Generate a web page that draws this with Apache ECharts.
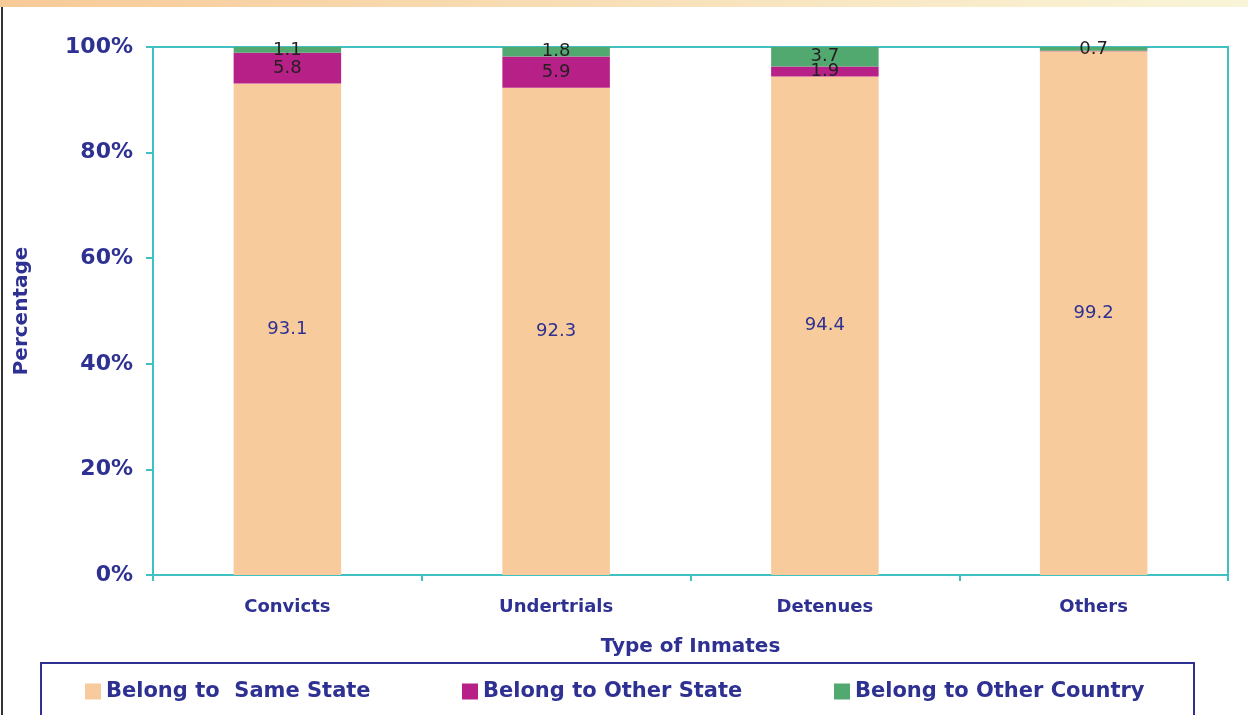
<!DOCTYPE html>
<html>
<head>
<meta charset="utf-8">
<script src="https://cdn.jsdelivr.net/npm/echarts@6/dist/echarts.min.js"></script>
<style>
    html, body { margin: 0; padding: 0; background: #ffffff; }
    #main { width: 1248px; height: 715px; }
</style>
</head>
<body>
<div id="main"></div>
<script>
// categories and values (percent)
const categories = ['Convicts', 'Undertrials', 'Detenues', 'Others']
const sameState = [93.1, 92.3, 94.4, 99.2]
const otherState = [5.8, 5.9, 1.9, 0.1]
const otherCountry = [1.1, 1.8, 3.7, 0.7]
const seriesNames = ['Belong to  Same State', 'Belong to Other State', 'Belong to Other Country']
const yTicks = [0, 20, 40, 60, 80, 100]

const navy = '#2e3192'
const teal = '#40c0c0'
const fontName = '"DejaVu Sans", "Liberation Sans", Arial, sans-serif'
const colors = ['#f7cb9b', '#b72087', '#52a96f']

// tiny segments get no label, as in the original
function toData(arr) {
    return arr.map(v => v < 0.5 ? { value: v, label: { show: false } } : v)
}

function makeSeries(name, arr, color, labelColor) {
    return {
        name: name,
        type: 'bar',
        stack: 'total',
        barWidth: '40%',
        itemStyle: { color: color },
        label: {
            show: true,
            position: 'inside',
            color: labelColor,
            fontFamily: fontName,
            fontSize: 18
        },
        data: toData(arr)
    }
}

// one legend per item so each sits where the original has it
function makeLegend(name, left) {
    return {
        data: [name],
        left: left,
        top: 681,
        padding: 0,
        itemWidth: 16,
        itemHeight: 16,
        itemGap: 5,
        icon: 'rect',
        textStyle: { color: navy, fontFamily: fontName, fontWeight: 'bold', fontSize: 21 }
    }
}

const chart = echarts.init(document.getElementById('main'), null, { renderer: 'canvas' })

const option = {
    animation: false,
    backgroundColor: '#ffffff',
    color: colors,
    grid: {
        left: 153,
        right: 20,
        top: 47,
        bottom: 140,
        show: true,
        borderColor: teal,
        borderWidth: 2
    },
    legend: [
        makeLegend(seriesNames[0], 85),
        makeLegend(seriesNames[1], 462),
        makeLegend(seriesNames[2], 834)
    ],
    xAxis: {
        type: 'category',
        data: categories,
        name: 'Type of Inmates',
        nameLocation: 'middle',
        nameGap: 62,
        nameTextStyle: { color: navy, fontFamily: fontName, fontWeight: 'bold', fontSize: 20 },
        axisLine: { lineStyle: { color: teal, width: 2 } },
        axisTick: { show: true, length: 6, lineStyle: { color: teal, width: 2 } },
        axisLabel: { color: navy, fontFamily: fontName, fontWeight: 'bold', fontSize: 18, margin: 23 }
    },
    yAxis: {
        type: 'value',
        min: yTicks[0],
        max: yTicks[yTicks.length - 1],
        interval: yTicks[1] - yTicks[0],
        name: 'Percentage',
        nameLocation: 'middle',
        nameGap: 121,
        nameTextStyle: { color: navy, fontFamily: fontName, fontWeight: 'bold', fontSize: 20 },
        splitLine: { show: false },
        axisLine: { show: true, lineStyle: { color: teal, width: 2 } },
        axisTick: { show: true, length: 7, lineStyle: { color: teal, width: 2 } },
        axisLabel: {
            color: navy, fontFamily: fontName, fontWeight: 'bold', fontSize: 22, margin: 20,
            formatter: '{value}%'
        }
    },
    graphic: [
        {
            type: 'rect',
            shape: { x: 0, y: 0, width: 1248, height: 7 },
            style: {
                fill: new echarts.graphic.LinearGradient(0, 0, 1, 0, [
                    { offset: 0, color: '#f7ca98' },
                    { offset: 1, color: '#f9f5d8' }
                ])
            },
            silent: true
        },
        {
            type: 'rect',
            shape: { x: 1, y: 7, width: 2, height: 708 },
            style: { fill: '#333333' },
            silent: true
        },
        {
            type: 'rect',
            shape: { x: 41, y: 663, width: 1153, height: 60 },
            style: { fill: 'none', stroke: navy, lineWidth: 2 },
            silent: true,
            z: -1
        }
    ],
    series: [
        makeSeries(seriesNames[0], sameState, colors[0], navy),
        makeSeries(seriesNames[1], otherState, colors[1], '#231f20'),
        makeSeries(seriesNames[2], otherCountry, colors[2], '#231f20')
    ]
}

chart.setOption(option)
</script>
</body>
</html>
